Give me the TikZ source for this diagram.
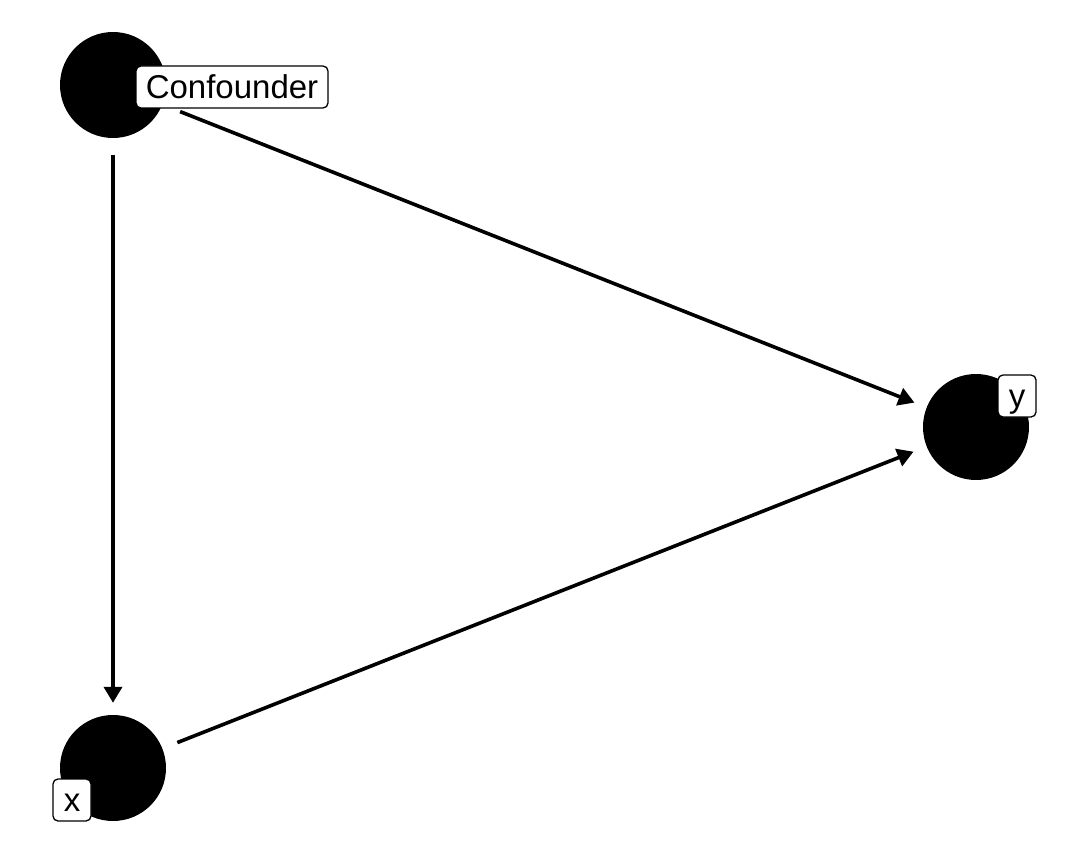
\documentclass[tikz,border=0pt]{standalone}
\usepackage{fontspec}
\setmainfont{Liberation Sans}
\usetikzlibrary{arrows.meta}
\begin{document}
\begin{tikzpicture}[x=1pt,y=-1pt,
  dagnode/.style={circle,fill=black,draw=none,inner sep=0pt,minimum size=106pt},
  daglabel/.style={draw=black,fill=white,line width=1.3pt,rounded corners=5pt,inner sep=0pt,
    minimum height=42pt,text height=23pt,text depth=0pt,
    font=\fontsize{33}{33}\selectfont},
  edge/.style={line width=3.6pt,-{Triangle[length=16pt,width=18pt]}}]
\useasboundingbox (0,0) rectangle (1080,864);
\node[dagnode] (C) at (113,85) {};
\node[dagnode] (Y) at (976,427) {};
\node[dagnode] (X) at (113,768) {};
\draw[edge,shorten <=17pt,shorten >=12pt] (C) -- (X);
\draw[edge,shorten <=19pt,shorten >=13pt] (C) -- (Y);
\draw[edge,shorten <=16pt,shorten >=14pt] (X) -- (Y);
\node[daglabel,minimum width=192pt] (lC) at (232,87) {Confounder};
\node[daglabel,minimum width=38pt] (lY) at (1017,396) {y};
\node[daglabel,minimum width=38pt] (lX) at (72,800) {x};
\end{tikzpicture}
\end{document}
